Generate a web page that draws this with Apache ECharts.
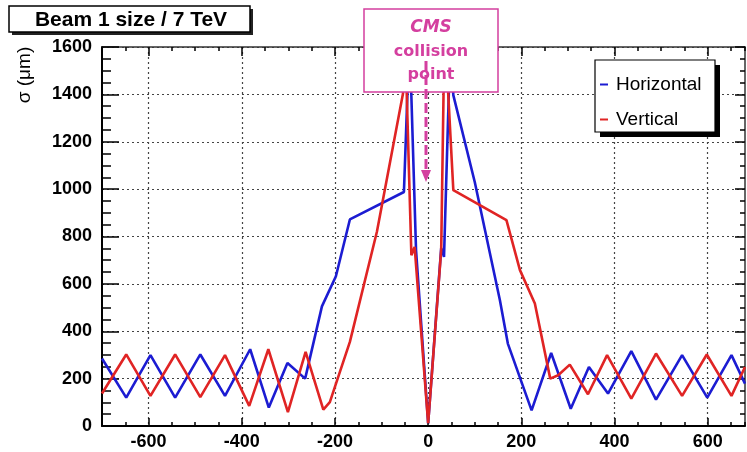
<!DOCTYPE html>
<html>
<head>
<meta charset="utf-8">
<script src="https://cdn.jsdelivr.net/npm/echarts@6.0.0/dist/echarts.min.js"></script>
<style>html,body{margin:0;padding:0;background:#fff}#c{width:747px;height:452px}</style>
</head>
<body>
<div id="c"></div>
<script>
// Horizontal (blue) beam size, x in m, sigma in um
const hX = [-700,-648,-596,-543,-489,-436,-382,-342,-302,-264,-228,-198,-168,-52,-40,-26,0,28,34,48,54,100,154,171,222,264,306,345,386,436,489,545,599,651,680];
const hY = [285,120,299,120,302,127,324,78,266,200,505,632,872,988,1650,742,12,751,714,1650,1397,1030,531,348,66,308,73,249,137,316,111,299,120,299,179];
// Vertical (red)
const vX = [-700,-648,-596,-543,-489,-436,-384,-343,-301,-263,-225,-211,-168,-110,-54,-50,-46,-36,-29,0,28,33,38,43,54,168,197,229,262,279,304,343,384,436,489,545,598,651,680];
const vY = [137,302,127,302,122,299,85,324,59,313,69,101,355,820,1404,1600,1404,721,756,12,745,1404,1650,1404,996,869,658,517,200,214,259,134,299,116,306,127,302,127,249];
const seriesNames = ['Horizontal','Vertical'];
const xTicks = [-600,-400,-200,0,200,400,600];
const yTicks = [0,200,400,600,800,1000,1200,1400,1600];
const titleText = 'Beam 1 size / 7 TeV';
const yName = 'σ (μm)';
const noteLines = ['CMS','collision','point'];

const XMIN = -700, XMAX = 680;
const blue = '#1c1cd2', red = '#e02424', pink = '#d43f9f';
const font = "'Liberation Sans', Arial, sans-serif";

const chart = echarts.init(document.getElementById('c'), null, {renderer:'canvas'});
const tickLine = {color:'#000', width:1.5};
const plain = v => String(v);
const option = {
  animation:false,
  backgroundColor:'#fff',
  grid:{left:102, right:2, top:47, bottom:26, containLabel:false, outerBoundsMode:'none'},
  xAxis:[
    {type:'value', position:'bottom', min:XMIN, max:XMAX,
     axisLine:{show:true, onZero:false, lineStyle:{color:'#000', width:2}},
     axisTick:{show:true, customValues:xTicks, inside:true, length:8, lineStyle:tickLine},
     axisLabel:{show:true, customValues:xTicks, formatter:plain, color:'#000', fontWeight:'bold', fontSize:18, fontFamily:font, margin:7},
     splitLine:{show:true, lineStyle:{type:[2,3], color:'#444', width:1.2}}},
    {type:'value', position:'bottom', min:XMIN, max:XMAX, interval:50,
     axisLine:{show:false, onZero:false},
     axisTick:{show:true, inside:true, length:4, lineStyle:tickLine},
     axisLabel:{show:false}, splitLine:{show:false}},
    {type:'value', position:'top', min:XMIN, max:XMAX,
     axisLine:{show:true, onZero:false, lineStyle:{color:'#333', width:1.5}},
     axisTick:{show:true, customValues:xTicks, inside:true, length:9, lineStyle:tickLine},
     axisLabel:{show:false}, splitLine:{show:false}},
    {type:'value', position:'top', min:XMIN, max:XMAX, interval:50,
     axisLine:{show:false, onZero:false},
     axisTick:{show:true, inside:true, length:4, lineStyle:tickLine},
     axisLabel:{show:false}, splitLine:{show:false}}
  ],
  yAxis:[
    {type:'value', position:'left', min:0, max:1600, interval:200,
     axisLine:{show:true, onZero:false, lineStyle:{color:'#000', width:2}},
     axisTick:{show:true, inside:true, length:17, lineStyle:tickLine},
     minorTick:{show:true, splitNumber:4, length:9, lineStyle:{color:'#000', width:1.5}},
     axisLabel:{show:true, customValues:yTicks, formatter:plain, color:'#000', fontWeight:'bold', fontSize:18, fontFamily:font, margin:10},
     splitLine:{show:true, lineStyle:{type:[2,3], color:'#444', width:1.2}}},
    {type:'value', position:'right', min:0, max:1600, interval:200,
     axisLine:{show:true, onZero:false, lineStyle:{color:'#333', width:1.5}},
     axisTick:{show:true, inside:true, length:10, lineStyle:tickLine},
     minorTick:{show:true, splitNumber:4, length:5, lineStyle:{color:'#000', width:1.5}},
     axisLabel:{show:false}, splitLine:{show:false}}
  ],
  legend:{
    show:true, orient:'vertical', left:595, top:69, z:10,
    itemWidth:8, itemHeight:2, itemGap:14, icon:'rect',
    data:seriesNames,
    textStyle:{fontSize:19, fontFamily:font, color:'#000', lineHeight:21, padding:[0,0,0,3]}
  },
  series:[
    {type:'line', name:seriesNames[0], xAxisIndex:0, yAxisIndex:0,
     data:hX.map((x,i)=>[x,hY[i]]), symbol:'none', showSymbol:false, clip:true, z:2,
     lineStyle:{color:blue, width:2.6}, itemStyle:{color:blue}},
    {type:'line', name:seriesNames[1], xAxisIndex:0, yAxisIndex:0,
     data:vX.map((x,i)=>[x,vY[i]]), symbol:'none', showSymbol:false, clip:true, z:3,
     lineStyle:{color:red, width:2.6}, itemStyle:{color:red}}
  ],
  graphic:[
    {type:'rect', z:5, shape:{x:12, y:9, width:241, height:26}, style:{fill:'#222'}},
    {type:'rect', z:6, shape:{x:9, y:6, width:241, height:26}, style:{fill:'#fff', stroke:'#000', lineWidth:1.5}},
    {type:'text', z:7, x:131, y:20, style:{text:titleText, fontSize:21, fontWeight:'bold', fontFamily:font, fill:'#000', align:'center', verticalAlign:'middle'}},
    {type:'text', z:7, x:25, y:75, rotation:Math.PI/2, style:{text:yName, fontSize:19, fontFamily:font, fill:'#000', align:'center', verticalAlign:'middle'}},
    {type:'rect', z:5, shape:{x:600, y:65, width:120, height:72}, style:{fill:'#000'}},
    {type:'rect', z:6, shape:{x:595, y:60, width:120, height:72}, style:{fill:'#fff', stroke:'#000', lineWidth:1.2}},
    {type:'rect', z:20, shape:{x:364, y:9, width:134, height:83}, style:{fill:'#fff', stroke:pink, lineWidth:1.5}},
    {type:'line', z:21, shape:{x1:426, y1:61, x2:426, y2:172}, style:{stroke:pink, lineWidth:3, lineDash:[10,4]}},
    {type:'polygon', z:21, shape:{points:[[421,170],[431,170],[426,182]]}, style:{fill:pink}},
    {type:'text', z:22, x:431, y:28, style:{text:noteLines[0], fontSize:17, fontWeight:'bold', fontStyle:'italic', fontFamily:"'DejaVu Sans', sans-serif", fill:pink, align:'center', verticalAlign:'middle'}},
    {type:'text', z:22, x:431, y:52, style:{text:noteLines[1], fontSize:16, fontWeight:'bold', fontFamily:"'DejaVu Sans', sans-serif", fill:pink, align:'center', verticalAlign:'middle'}},
    {type:'text', z:22, x:431, y:75, style:{text:noteLines[2], fontSize:16, fontWeight:'bold', fontFamily:"'DejaVu Sans', sans-serif", fill:pink, align:'center', verticalAlign:'middle'}}
  ]
};
chart.setOption(option);
</script>
</body>
</html>
